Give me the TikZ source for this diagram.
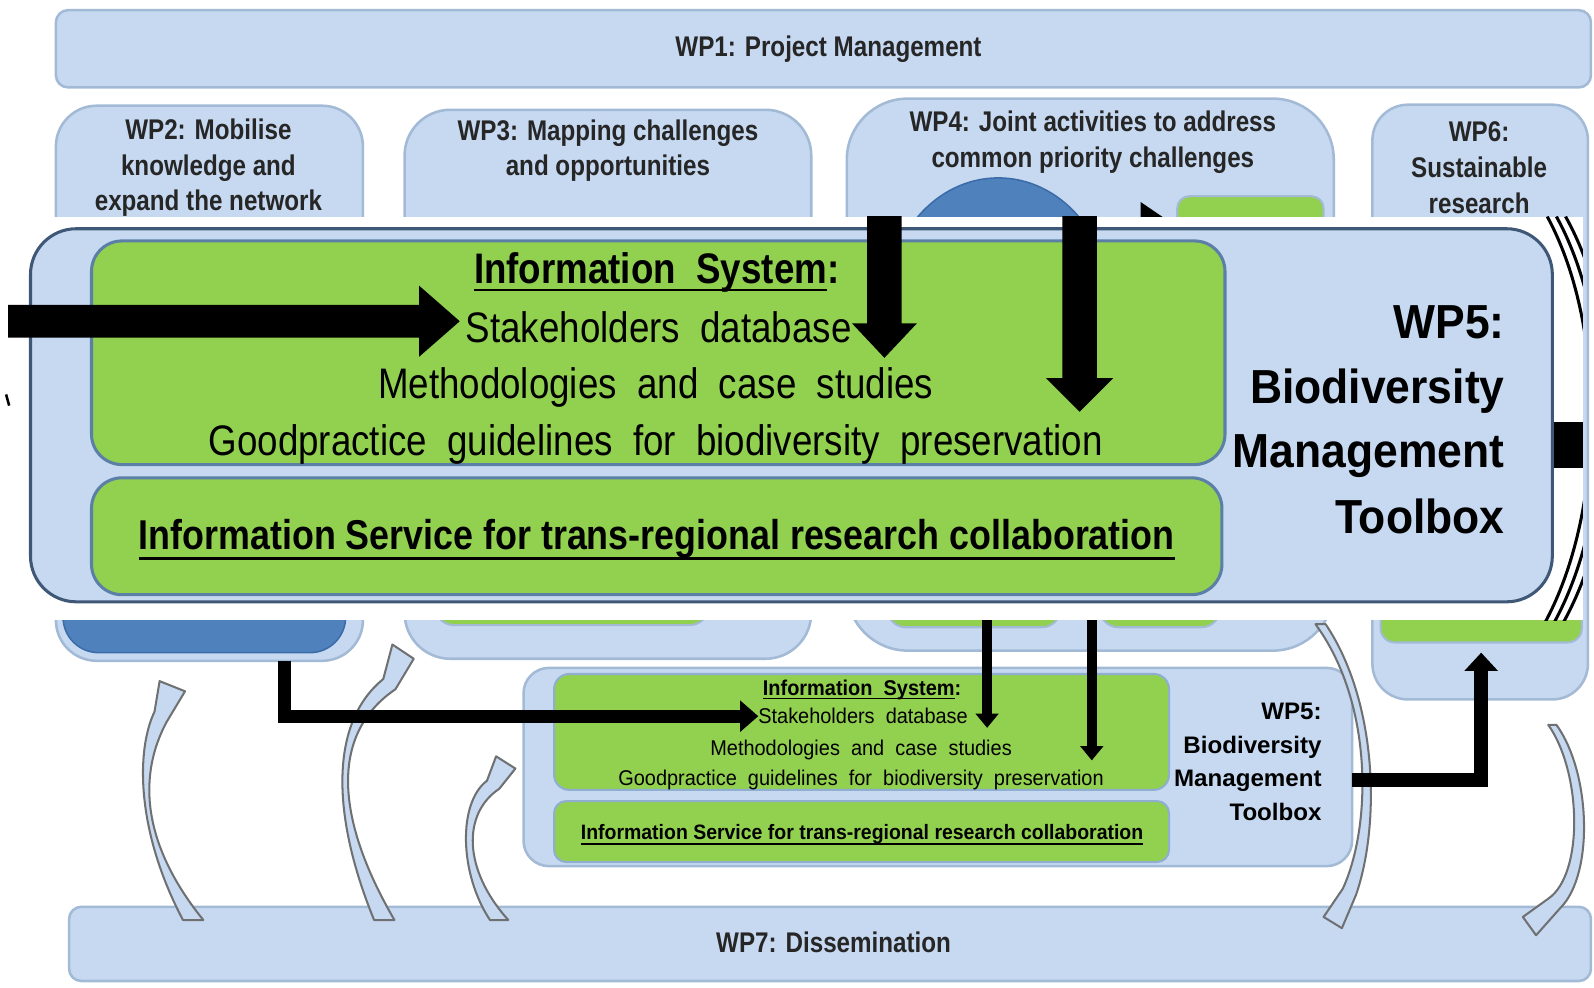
\documentclass[tikz,border=0pt]{standalone}
\usepackage{fontspec}
\setmainfont{Liberation Sans}
\newfontfamily\insf[FakeStretch=0.86]{Liberation Sans}
\newfontfamily\wpf[FakeStretch=0.93]{Liberation Sans}
\newfontfamily\bgf[FakeStretch=0.85]{Liberation Sans}
\usepackage{graphicx}
\usetikzlibrary{calc,arrows.meta,shapes.geometric}

\definecolor{lb}{HTML}{C6D9F1}
\definecolor{lbd}{HTML}{A3BAD6}
\definecolor{gr}{HTML}{92D050}
\definecolor{db}{HTML}{4F81BD}
\definecolor{dbd}{HTML}{3C6CA8}
\definecolor{grb}{HTML}{5B7FA6}
\definecolor{outb}{HTML}{3F5877}
\definecolor{grs}{HTML}{8FAED0}
\definecolor{ca}{HTML}{6F7072}

\newsavebox\ulbox
\newcommand\myul[2]{\sbox\ulbox{#2}\rlap{\rule[-#1]{\wd\ulbox}{2.6pt}}\usebox\ulbox}
\newcommand\txtIS{{\insf\bfseries\fontsize{42}{48}\selectfont\myul{7.6pt}{Information\ \ System}:}}
\newcommand\txtSD{{\insf\fontsize{42}{48}\selectfont Stakeholders\ \ database}}
\newcommand\txtMC{{\insf\fontsize{42}{48}\selectfont Methodologies\ \ and\ \ case\ \ studies}}
\newcommand\txtGP{{\insf\fontsize{42}{48}\selectfont Goodpractice\ \ guidelines\ \ for\ \ biodiversity\ \ preservation}}
\newcommand\txtSV{{\insf\bfseries\fontsize{41}{47}\selectfont\myul{9.6pt}{Information Service for trans-regional research collaboration}}}
\newcommand\wpline[1]{{\wpf\bfseries\fontsize{47}{56}\selectfont #1}}
\newcommand\smallt[1]{\scalebox{0.543}[0.5]{#1}}

\tikzset{
  bbox/.style={draw=lbd, fill=lb, line width=2.5pt, inner sep=0pt, outer sep=0pt},
  gbox/.style={draw=lbd, fill=gr, line width=2pt, inner sep=0pt, outer sep=0pt},
  bgtext/.style={font={\bgf\bfseries\fontsize{28}{35}\selectfont}, text=black!85, align=center, inner sep=0pt},
  txt/.style={inner sep=0pt, outer sep=0pt, anchor=base},
  rtxt/.style={inner sep=0pt, outer sep=0pt, anchor=base east},
  conn/.style={draw=black, line width=#1},
  curvarrow/.style={fill=lb, draw=ca, line width=2pt, line join=round},
}

\begin{document}
\begin{tikzpicture}[x=1pt,y=-1pt]
\useasboundingbox (0,0) rectangle (1568,971);
\fill[white] (0,0) rectangle (1568,971);

% ---------- background diagram ----------
\node[bbox, minimum width=1510pt, minimum height=76pt, rounded corners=12pt] (wp1) at (810,48) {};
\node[bgtext] (wp1t) at (815,48) {WP1: Project Management};

\node[bbox, minimum width=302pt, minimum height=546pt, rounded corners=40pt] (wp2) at (206,377) {};
\node[fill=db, draw=dbd, line width=1.5pt, minimum width=278pt, minimum height=222pt, rounded corners=35pt, inner sep=0pt] (wp2b) at (201,531) {};
\node[bgtext] (wp2t) at (205,165) {WP2: Mobilise\\knowledge and\\expand the network};

\node[bbox, minimum width=400pt, minimum height=540pt, rounded corners=45pt] (wp3) at (598,378) {};
\node[gbox, minimum width=271pt, minimum height=215pt, rounded corners=20pt] (g3) at (562.5,507.5) {};
\node[bgtext] (wp3t) at (598,148) {WP3: Mapping challenges\\and opportunities};

\node[bbox, minimum width=479pt, minimum height=543pt, rounded corners=60pt] (wp4) at (1072.5,368.5) {};
\node[ellipse, fill=db, draw=dbd, line width=1.5pt, minimum width=220pt, minimum height=250pt, inner sep=0pt] (e4) at (982,300) {};
\node[gbox, minimum width=144pt, minimum height=137pt, rounded corners=12pt] (g4t) at (1230,261.5) {};
\node[gbox, minimum width=170pt, minimum height=97pt, rounded corners=18pt] (g4a) at (958,568.5) {};
\node[gbox, minimum width=118pt, minimum height=97pt, rounded corners=18pt] (g4b) at (1141,568.5) {};
\draw[conn=10pt, -{Triangle[length=36pt,width=46pt]}] (e4.east |- 0,223) -- (g4t.west |- 0,223);
\node[bgtext] (wp4t) at (1075,140) {WP4: Joint activities to address\\common priority challenges};

\node[bbox, minimum width=212pt, minimum height=585pt, rounded corners=35pt] (wp6) at (1456,395.5) {};
\node[gbox, minimum width=198pt, minimum height=192pt, rounded corners=14pt] (g6) at (1457,536) {};
\node[bgtext] (wp6t) at (1455,165) {WP6:\\Sustainable\\research};

\node[bbox, minimum width=1497pt, minimum height=73pt, rounded corners=12pt] (wp7) at (816.5,928.5) {};
\node[bgtext] (wp7t) at (820,927) {WP7: Dissemination};

% small WP5 box
\node[bbox, minimum width=815pt, minimum height=195pt, rounded corners=25pt] (swp5) at (922.5,754.5) {};
\node[draw=grs, fill=gr, line width=2pt, minimum width=605pt, minimum height=114pt, rounded corners=15pt] (sg1) at (847.5,720) {};
\node[draw=grs, fill=gr, line width=2pt, minimum width=605pt, minimum height=60pt, rounded corners=12pt] (sg2) at (847.5,818) {};
\node[txt] (sis) at (848,684) {\smallt{\txtIS}};
\node[txt] (ssd) at (849,712) {\smallt{\txtSD}};
\node[txt] (smc) at (847,743) {\smallt{\txtMC}};
\node[txt] (sgp) at (847,773) {\smallt{\txtGP}};
\node[txt] (ssv) at (848,826) {\smallt{\txtSV}};
\node[rtxt] (swa) at (1300,708) {\smallt{\wpline{WP5:}}};
\node[rtxt] (swb) at (1300,741) {\smallt{\wpline{Biodiversity}}};
\node[rtxt] (swc) at (1300,774) {\smallt{\wpline{Management}}};
\node[rtxt] (swd) at (1300,807) {\smallt{\wpline{Toolbox}}};

% curved grey block arrows (to / from WP7)
\draw[curvarrow] (180,905) .. controls (135,820) and (133,740) .. (152,700) -- (157,670) -- (182,680) -- (164,710)
  .. controls (137,760) and (137,827) .. (200,905) -- cycle;
\draw[curvarrow] (368,905) .. controls (325,800) and (325,710) .. (377,668) -- (386,634) -- (407,648) -- (389,678)
  .. controls (327,720) and (327,800) .. (388,905) -- cycle;
\draw[curvarrow] (482,905) .. controls (452,860) and (450,790) .. (479,768) -- (488,744) -- (507,756) -- (491,776)
  .. controls (455,800) and (455,855) .. (500,905) -- cycle;
\draw[curvarrow] (1304,614) .. controls (1355,690) and (1358,810) .. (1334,880) -- (1320,913) -- (1302,902) -- (1321,874)
  .. controls (1350,810) and (1350,690) .. (1294,614) -- cycle;
\draw[curvarrow] (1531,713) .. controls (1565,760) and (1568,860) .. (1535,893) -- (1511,920) -- (1498,902) -- (1523,884)
  .. controls (1558,860) and (1556,760) .. (1523,713) -- cycle;

% black connectors
\coordinate (t1) at (971,716);
\coordinate (t2) at (1074,748);
\draw[conn=13pt, -{Triangle[length=18pt,width=30pt]}] ([xshift=74pt]wp2.south) |- (ssd.west);
\draw[conn=10pt, -{Triangle[length=14pt,width=22pt]}] (t1 |- wp4.center) -- (t1);
\draw[conn=10pt, -{Triangle[length=14pt,width=22pt]}] (t2 |- wp4.center) -- (t2);
\draw[conn=14pt, -{Triangle[length=18pt,width=32pt]}] ([yshift=-13pt]swp5.east) -| ([yshift=-10pt]g6.south);

% ---------- magnified inset ----------
\fill[white] (0,213) rectangle (1557,610);
\begin{scope}
\clip (0,213) rectangle (1557,610);
\node[draw=outb, fill=lb, line width=3pt, minimum width=1497pt, minimum height=367pt, rounded corners=45pt, inner sep=0pt] (iw5) at (778.5,408.5) {};
\node[draw=grb, fill=gr, line width=3pt, minimum width=1115pt, minimum height=220pt, rounded corners=30pt, inner sep=0pt] (ig1) at (647.5,347) {};
\node[draw=grb, fill=gr, line width=3pt, minimum width=1112pt, minimum height=115pt, rounded corners=30pt, inner sep=0pt] (ig2) at (646,527.5) {};

\node[txt] (iis) at (646,279) {\txtIS};
\node[txt] (isd) at (648,337) {\txtSD};
\node[txt] (imc) at (645,392) {\txtMC};
\node[txt] (igp) at (645,448) {\txtGP};
\node[txt] (isv) at (646,541) {\txtSV};
\node[rtxt] (iwa) at (1480,333) {\wpline{WP5:}};
\node[rtxt] (iwb) at (1480,397) {\wpline{Biodiversity}};
\node[rtxt] (iwc) at (1480,460) {\wpline{Management}};
\node[rtxt] (iwd) at (1480,525) {\wpline{Toolbox}};

% big arrows
\coordinate (hA) at (8,316);
\coordinate (hT) at ($(isd.west |- hA)+(-6,0)$);
\fill[black] ($(hA)+(0,-16)$) -- ($(hT)+(-40,-16)$) -- ($(hT)+(-40,-35)$) -- (hT)
  -- ($(hT)+(-40,35)$) -- ($(hT)+(-40,16)$) -- ($(hA)+(0,16)$) -- cycle;
\coordinate (vA) at (870,200); \coordinate (vT) at (870,352);
\fill[black] ($(vA)+(-17,0)$) -- ($(vT)+(-17,-34)$) -- ($(vT)+(-32,-34)$) -- (vT)
  -- ($(vT)+(32,-34)$) -- ($(vT)+(17,-34)$) -- ($(vA)+(17,0)$) -- cycle;
\coordinate (wA) at (1062,200); \coordinate (wT) at (1062,405);
\fill[black] ($(wA)+(-17,0)$) -- ($(wT)+(-17,-33)$) -- ($(wT)+(-33,-33)$) -- (wT)
  -- ($(wT)+(33,-33)$) -- ($(wT)+(17,-33)$) -- ($(wA)+(17,0)$) -- cycle;

% connector to WP6 (magnified)
\draw[conn=45pt] ([yshift=-29pt]iw5.east) -- ++(40,0);
% magnified curved arrow outline
\draw[line width=3pt] (1522,213) .. controls (1580,320) and (1580,500) .. (1520,612);
\draw[line width=3pt] (1531,213) .. controls (1590,320) and (1590,500) .. (1529,612);
\draw[line width=3pt] (1540,213) .. controls (1600,320) and (1600,500) .. (1538,612);
\draw[line width=2.5pt] (6,388) -- (9,399);
\end{scope}
\end{tikzpicture}
\end{document}
